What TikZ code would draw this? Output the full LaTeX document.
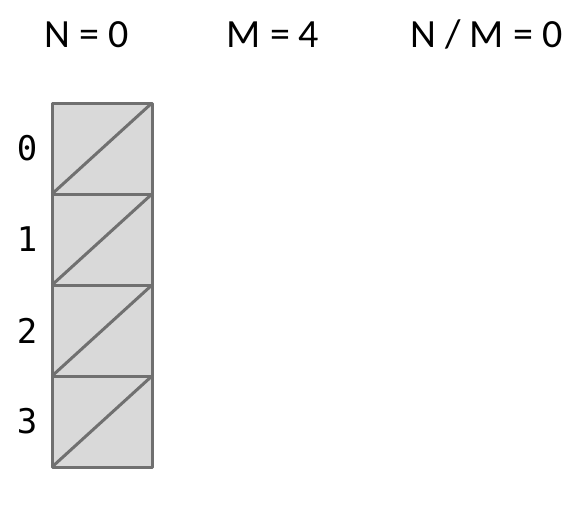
\documentclass[tikz,border=0pt]{standalone}
\usepackage{fontspec}
\setmainfont{Carlito}
\newfontfamily\idxfont{DejaVu Sans Mono}
\definecolor{CellGrey}{RGB}{217,217,217}
\definecolor{EdgeGrey}{RGB}{112,112,112}
\usetikzlibrary{positioning}

\begin{document}
\begin{tikzpicture}[x=1pt,y=-1pt,
  cellbox/.style={draw=EdgeGrey,fill=CellGrey,line width=3pt,line join=round},
  idxlbl/.style={font=\idxfont\fontsize{34}{34}\selectfont,inner sep=0pt},
  toplbl/.style={font=\fontsize{40}{40}\selectfont,inner sep=0pt}]
\useasboundingbox (0,0) rectangle (578,504);
% header
\node[toplbl] (nval) at (86.5,34.5) {N = 0};
\node[toplbl] (mval) at (273,34.5) {M = 4};
\node[toplbl] (ratio) at (486.5,34.5) {N / M = 0};
% cells
\foreach \i in {0,...,3}{
  \draw[cellbox] (52,103+91*\i) rectangle (152,194+91*\i);
  \draw[EdgeGrey,line width=3pt] (52,194+91*\i) -- (152,103+91*\i);
  \node[idxlbl] (idx\i) at (27,148.5+91*\i) {\i};
}
\end{tikzpicture}
\end{document}
